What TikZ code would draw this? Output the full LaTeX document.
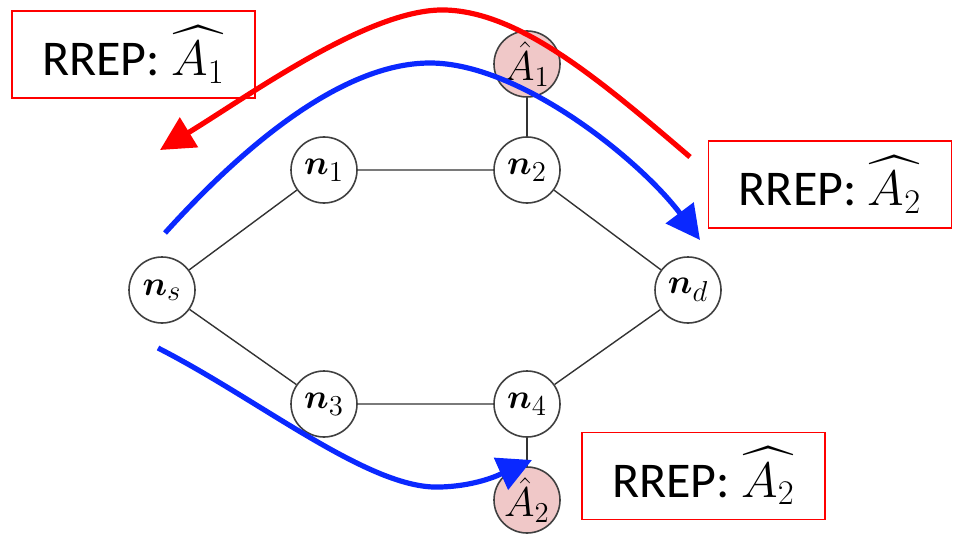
\documentclass[tikz,border=0pt]{standalone}
\usepackage{amsmath,amssymb}
\usepackage{bm}
\usepackage{fontspec}
\newfontfamily\boxfont{Carlito}
\usetikzlibrary{arrows.meta,positioning}
\definecolor{apfill}{RGB}{240,200,200}
\definecolor{routeblue}{RGB}{10,40,255}
\tikzset{
    vertex/.style={circle, draw=black!75, line width=0.8pt, fill=white, minimum size=33pt, inner sep=0pt, font=\fontsize{19}{22}\selectfont},
    apnode/.style={vertex, fill=apfill, font=\fontsize{22}{24}\selectfont},
    link/.style={draw=black!80, line width=0.7pt},
    rrepbox/.style={draw=red, line width=0.9pt, minimum width=121.5pt, minimum height=43.5pt, inner sep=0pt, font=\boxfont\fontsize{25}{30}\selectfont},
    route/.style={line width=2.6pt, -{Triangle[length=17pt,width=17pt]}},
}

\begin{document}
\begin{tikzpicture}[x=0.5pt,y=0.5pt,yscale=-1,xscale=1]
    \useasboundingbox (0,0) rectangle (956,534);

    % graph nodes
    \node[vertex] (ns) at (162,290) {$\bm{n}_s$};
    \node[vertex] (n1) at (324,170) {$\bm{n}_1$};
    \node[vertex] (n2) at (527,170) {$\bm{n}_2$};
    \node[vertex] (nd) at (688,290) {$\bm{n}_d$};
    \node[vertex] (n3) at (324,404) {$\bm{n}_3$};
    \node[vertex] (n4) at (527,404) {$\bm{n}_4$};
    \node[apnode] (a1) at (527,64) {$\hat{A}_1$};
    \node[apnode] (a2) at (527,500) {$\hat{A}_2$};

    % links
    \draw[link] (ns) -- (n1) -- (n2) -- (nd) -- (n4) -- (n3) -- (ns);
    \draw[link] (n2) -- (a1);
    \draw[link] (n4) -- (a2);

    % RREP labels
    \node[rrepbox] (rrep1) at (133.5,54.5) {RREP: $\widehat{A_1}$};
    \node[rrepbox] (rrep2) at (830,184.5) {RREP: $\widehat{A_2}$};
    \node[rrepbox] (rrep3) at (703.5,476) {RREP: $\widehat{A_2}$};

    % route ends
    \coordinate (redstart) at (690,157);
    \coordinate (redend) at (160,150);
    \coordinate (topstart) at (165,233);
    \coordinate (topend) at (700,240);
    \coordinate (botstart) at (158,348);
    \coordinate (botend) at (532,460);

    % replies and forwarded routes
    \draw[route, red] (redstart) .. controls (600,80) and (520,12) .. (445,10)
        .. controls (370,8) and (250,95) .. (redend);
    \draw[route, routeblue] (topstart) .. controls (240,150) and (340,63) .. (430,63)
        .. controls (520,63) and (640,160) .. (topend);
    \draw[route, routeblue] (botstart) .. controls (260,400) and (370,490) .. (440,487)
        .. controls (480,486) and (505,472) .. (botend);
\end{tikzpicture}
\end{document}
